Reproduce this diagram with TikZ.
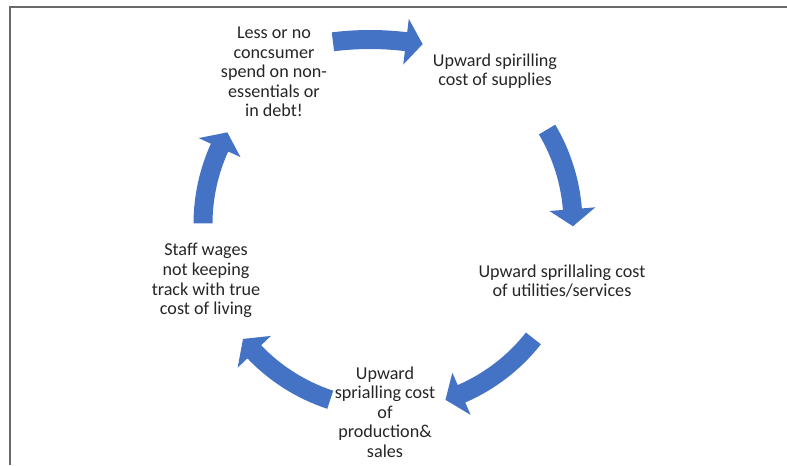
\documentclass[tikz,border=0pt]{standalone}
\usepackage{fontspec}
\setmainfont{Carlito}
\definecolor{azul}{HTML}{4472C4}
\definecolor{cinza}{HTML}{6A6A6A}
\tikzset{
 seta/.style={fill=azul},
 texto/.style={align=center,inner sep=0pt,text=black!85,font=\fontsize{13.6}{14.7}\selectfont},
 moldura/.style={draw=cinza,line width=1.5pt}
}
\begin{document}
\begin{tikzpicture}[x=0.75pt,y=0.75pt]
\useasboundingbox (0,0) rectangle (787,465);
%moldura (só topo e lado esquerdo)
 \draw[moldura] (9.5,0) -- (9.5,457.5) -- (787,457.5);
%centro do ciclo
 \coordinate (centro) at (388,241);
%centro da seta de cima (mais aberta)
 \coordinate (centrotopo) at (370,125.5);
%textos
 \node[texto] (gastos) at (274,393) {Less or no\\concsumer\\spend on non-\\essentials or\\in debt!};
 \node[texto] (insumos) at (495,394) {Upward spirilling\\cost of supplies};
 \node[texto] (servicos) at (562,184) {Upward sprillaling cost\\of utilities/services};
 \node[texto] (producao) at (385,53) {Upward\\sprialling cost\\of\\production\&\\sales};
 \node[texto] (salarios) at (206,184.5) {Staff wages\\not keeping\\track with true\\cost of living};
%seta de cima
 \fill[seta] ([shift={(97.1:309.5)}]centrotopo) arc[start angle=97.1,end angle=83.1,radius=309.5]
  -- ([shift={(83.1:323)}]centrotopo) -- ([shift={(79.9:300)}]centrotopo) -- ([shift={(83.1:277)}]centrotopo)
  -- ([shift={(83.1:290.5)}]centrotopo) arc[start angle=83.1,end angle=97.1,radius=290.5] -- cycle;
%seta da direita
 \fill[seta] ([shift={(30.7:194.5)}]centro) arc[start angle=30.7,end angle=4.6,radius=194.5]
  -- ([shift={(4.6:208)}]centro) -- ([shift={(-0.7:185)}]centro) -- ([shift={(4.6:162)}]centro)
  -- ([shift={(4.6:175.5)}]centro) arc[start angle=4.6,end angle=30.7,radius=175.5] -- cycle;
%seta de baixo à direita
 \fill[seta] ([shift={(-38.2:194.5)}]centro) arc[start angle=-38.2,end angle=-66.6,radius=194.5]
  -- ([shift={(-66.6:208)}]centro) -- ([shift={(-71.9:185)}]centro) -- ([shift={(-66.6:162)}]centro)
  -- ([shift={(-66.6:175.5)}]centro) arc[start angle=-66.6,end angle=-38.2,radius=175.5] -- cycle;
%seta de baixo à esquerda
 \fill[seta] ([shift={(-108.2:194.5)}]centro) arc[start angle=-108.2,end angle=-136.3,radius=194.5]
  -- ([shift={(-136.3:208)}]centro) -- ([shift={(-141.6:185)}]centro) -- ([shift={(-136.3:162)}]centro)
  -- ([shift={(-136.3:175.5)}]centro) arc[start angle=-136.3,end angle=-108.2,radius=175.5] -- cycle;
%seta da esquerda
 \fill[seta] ([shift={(179.8:194.5)}]centro) arc[start angle=179.8,end angle=155.6,radius=194.5]
  -- ([shift={(155.6:208)}]centro) -- ([shift={(150.3:185)}]centro) -- ([shift={(155.6:162)}]centro)
  -- ([shift={(155.6:175.5)}]centro) arc[start angle=155.6,end angle=179.8,radius=175.5] -- cycle;
\end{tikzpicture}
\end{document}
